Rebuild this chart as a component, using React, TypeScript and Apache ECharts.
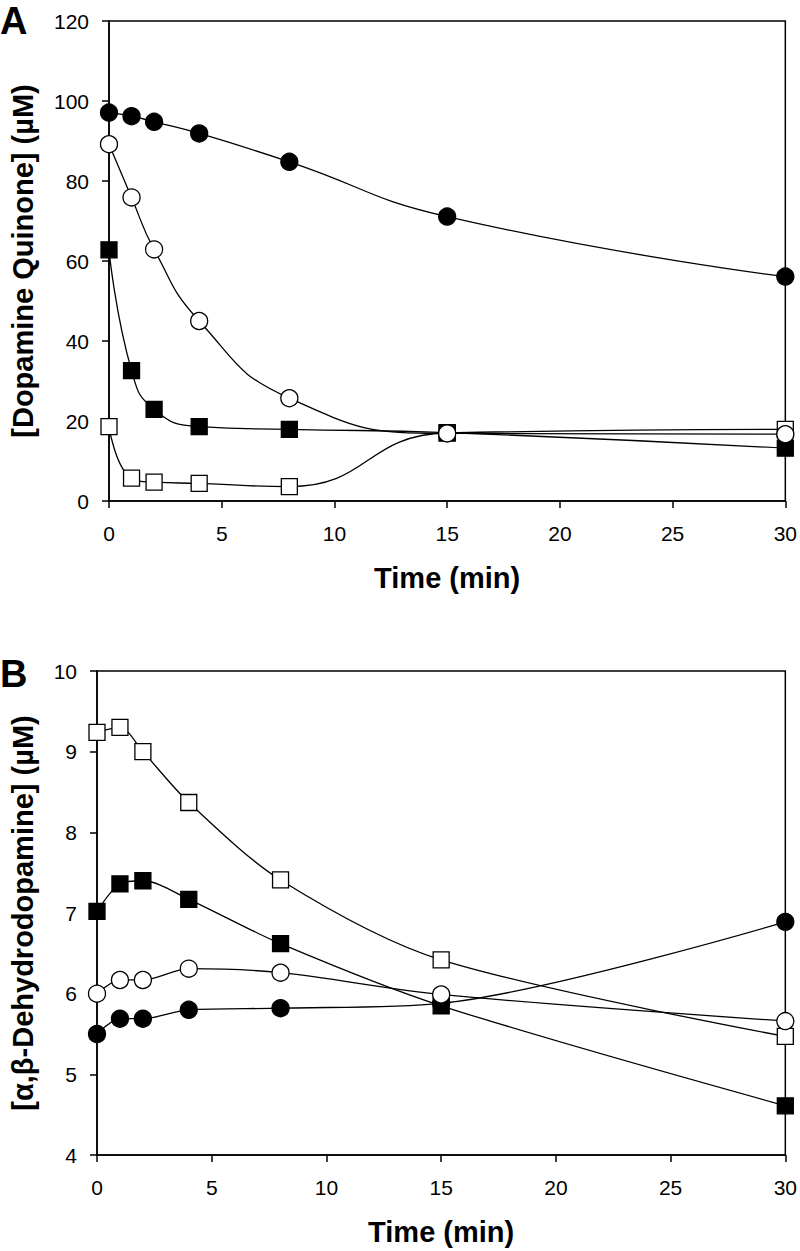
import React, { useEffect, useRef } from "react";
import * as echarts from "echarts";

const times = [0, 1, 2, 4, 8, 15, 30];

// Panel A: [Dopamine Quinone] (µM)
const aFilledCircle = [97.1, 96.2, 94.8, 91.9, 84.8, 71.1, 56.1];
const aOpenCircle = [89.2, 75.9, 62.9, 45.0, 25.7, 16.9, 16.7];
const aFilledSquare = [62.8, 32.6, 22.9, 18.6, 17.9, 17.1, 13.2];
const aOpenSquare = [18.6, 5.7, 4.7, 4.4, 3.6, 17.0, 17.9];

// Panel B: [α,β-Dehydrodopamine] (µM)
const bOpenSquare = [9.24, 9.3, 9.0, 8.37, 7.41, 6.42, 5.47];
const bFilledSquare = [7.02, 7.36, 7.4, 7.17, 6.62, 5.85, 4.61];
const bOpenCircle = [6.0, 6.17, 6.17, 6.31, 6.26, 5.99, 5.66];
const bFilledCircle = [5.5, 5.69, 5.69, 5.8, 5.82, 5.88, 6.89];

const xTicks = [0, 5, 10, 15, 20, 25, 30];
const aYTicks = [0, 20, 40, 60, 80, 100, 120];
const bYTicks = [4, 5, 6, 7, 8, 9, 10];

const FONT = "'Liberation Sans', Arial, sans-serif";

const pts = (vals: number[]) => times.map((t, i) => [t, vals[i]]);

export default function App() {
  const ref = useRef<HTMLDivElement>(null);
  useEffect(() => {
    const chart = echarts.init(ref.current!, undefined, { renderer: "svg" });
    const axisCommon = {
      axisLine: { show: true, onZero: false, lineStyle: { color: "#000", width: 1.5 } },
      axisTick: { show: true, inside: false, length: 7, lineStyle: { color: "#000", width: 1.5 } },
      splitLine: { show: false },
      nameTextStyle: { fontFamily: FONT, fontWeight: "bold", fontSize: 29, color: "#000" },
    };
    const xAxis = (gi: number) => ({
      ...axisCommon,
      type: "value",
      gridIndex: gi,
      min: xTicks[0],
      max: xTicks[xTicks.length - 1],
      interval: 5,
      name: "Time (min)",
      nameLocation: "middle",
      nameGap: 62,
      axisLabel: { fontFamily: FONT, fontSize: 21, color: "#000", margin: 22 },
    });
    const yAxis = (gi: number, ticks: number[], name: string, gap: number, iv: number) => ({
      ...axisCommon,
      type: "value",
      gridIndex: gi,
      min: ticks[0],
      max: ticks[ticks.length - 1],
      interval: iv,
      name,
      nameLocation: "middle",
      nameGap: gap,
      axisLabel: { fontFamily: FONT, fontSize: 21, color: "#000", margin: 20 },
    });
    const mk = (
      gi: number,
      name: string,
      vals: number[],
      symbol: string,
      filled: boolean,
      smooth: number,
      z: number
    ) => ({
      type: "line",
      name,
      xAxisIndex: gi,
      yAxisIndex: gi,
      data: pts(vals),
      smooth,
      symbol,
      symbolSize: symbol === "circle" ? 17 : 16,
      showSymbol: true,
      lineStyle: { color: "#000", width: 1.3 },
      itemStyle: { color: filled ? "#000" : "#fff", borderColor: "#000", borderWidth: 1.3 },
      z,
    });
    chart.setOption({
      animation: false,
      backgroundColor: "#fff",
      grid: [
        { left: 104, top: 21, width: 684, height: 480, show: true, borderColor: "#000", borderWidth: 1.5, backgroundColor: "transparent" },
        { left: 92, top: 671, width: 695, height: 484, show: true, borderColor: "#000", borderWidth: 1.5, backgroundColor: "transparent" },
      ],
      xAxis: [xAxis(0), xAxis(1)],
      yAxis: [
        yAxis(0, aYTicks, "[Dopamine Quinone] (\u00b5M)", 72, 20),
        yAxis(1, bYTicks, "[\u03b1,\u03b2-Dehydrodopamine] (\u00b5M)", 60, 1),
      ],
      graphic: [
        { type: "text", left: 0, top: 2, style: { text: "A", fontFamily: FONT, fontWeight: "bold", fontSize: 38, fill: "#000" } },
        { type: "text", left: 0, top: 655, style: { text: "B", fontFamily: FONT, fontWeight: "bold", fontSize: 38, fill: "#000" } },
      ],
      series: [
        mk(0, "A open square", aOpenSquare, "rect", false, 0.5, 2),
        mk(0, "A filled square", aFilledSquare, "rect", true, 0.5, 3),
        mk(0, "A open circle", aOpenCircle, "circle", false, 0.5, 4),
        mk(0, "A filled circle", aFilledCircle, "circle", true, 0.5, 5),
        mk(1, "B filled circle", bFilledCircle, "circle", true, 0.3, 2),
        mk(1, "B filled square", bFilledSquare, "rect", true, 0.3, 3),
        mk(1, "B open square", bOpenSquare, "rect", false, 0.3, 4),
        mk(1, "B open circle", bOpenCircle, "circle", false, 0.3, 5),
      ],
    });
    return () => chart.dispose();
  }, []);
  return (
    <div
      ref={ref}
      style={{ position: "absolute", left: 0, top: 0, width: 800, height: 1251, background: "#fff" }}
    />
  );
}
